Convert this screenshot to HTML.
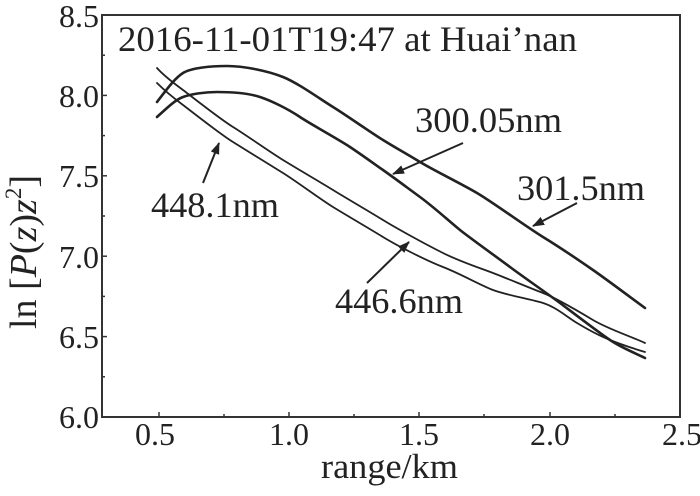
<!DOCTYPE html>
<html><head><style>
html,body{margin:0;padding:0;background:#fff;}
text{font-family:"Liberation Serif",serif;fill:#222;}
</style></head><body>
<svg width="700" height="491" viewBox="0 0 700 491" xmlns="http://www.w3.org/2000/svg">
<defs><marker id="ah" markerWidth="12" markerHeight="9" refX="11" refY="4.5" orient="auto" markerUnits="userSpaceOnUse"><path d="M0,0 L12,4.5 L0,9 z" fill="#222"/></marker></defs>
<rect x="102" y="15" width="578" height="402" fill="none" stroke="#333" stroke-width="2"/>
<g stroke="#333" stroke-width="1.5">
<line x1="102" y1="95.4" x2="107" y2="95.4"/><line x1="102" y1="175.8" x2="107" y2="175.8"/><line x1="102" y1="256.2" x2="107" y2="256.2"/><line x1="102" y1="336.6" x2="107" y2="336.6"/>
<line x1="102" y1="55.2" x2="105" y2="55.2"/><line x1="102" y1="135.6" x2="105" y2="135.6"/><line x1="102" y1="216" x2="105" y2="216"/><line x1="102" y1="296.4" x2="105" y2="296.4"/><line x1="102" y1="376.8" x2="105" y2="376.8"/>
<line x1="159" y1="417" x2="159" y2="412"/><line x1="289" y1="417" x2="289" y2="412"/><line x1="419" y1="417" x2="419" y2="412"/><line x1="550" y1="417" x2="550" y2="412"/>
<line x1="224" y1="417" x2="224" y2="414"/><line x1="354" y1="417" x2="354" y2="414"/><line x1="484" y1="417" x2="484" y2="414"/><line x1="615" y1="417" x2="615" y2="414"/>
</g>
<g font-size="32" text-anchor="end">
<text x="99" y="27">8.5</text><text x="99" y="107">8.0</text><text x="99" y="187">7.5</text><text x="99" y="268">7.0</text><text x="99" y="348">6.5</text><text x="99" y="428">6.0</text>
</g>
<g font-size="32" text-anchor="middle">
<text x="155" y="445">0.5</text><text x="289" y="445">1.0</text><text x="419" y="445">1.5</text><text x="550" y="445">2.0</text><text x="682" y="445">2.5</text>
</g>
<text x="321" y="478" font-size="35" textLength="137" lengthAdjust="spacingAndGlyphs">range/km</text>
<text transform="translate(36,252) rotate(-90)" font-size="38" text-anchor="middle">ln [<tspan font-style="italic">P</tspan>(<tspan font-style="italic">z</tspan>)<tspan font-style="italic">z</tspan><tspan font-size="23" dy="-15">2</tspan><tspan dy="15">]</tspan></text>
<text x="118" y="51" font-size="36" textLength="459" lengthAdjust="spacingAndGlyphs">2016-11-01T19:47 at Huai’nan</text>
<g fill="none" stroke="#222" stroke-linejoin="round" stroke-linecap="round">
<path stroke-width="2.6" d="M157,102 C167,89 175,78 183,73 S210,66 227,66 S268,71 283,77 S320,99 333,107 S370,132 383,140 S405,153 420,162 S460,183 477,193 S525,226 543,237 S580,261 593,270 S630,297 645,308"/>
<path stroke-width="2.6" d="M157,117 C167,108 175,100 183,97 S205,92 217,92 S248,93 260,97 S288,109 300,117 S338,139 350,147 S373,163 383,170 S405,186 420,197 S450,222 460,230 S498,258 510,267 S548,294 560,303 S598,332 610,340 S635,353 645,358"/>
<path stroke-width="1.8" d="M157,68 C165,77 175,84 183,90 S220,119 233,127 S270,152 283,160 S320,182 333,190 S370,212 383,220 S425,244 443,253 S480,268 493,273 S530,288 543,293 S578,311 593,320 S630,336 645,343"/>
<path stroke-width="1.8" d="M157,83 C165,91 175,99 183,105 S220,134 233,142 S270,165 283,173 S320,199 333,207 S370,229 383,237 S425,260 443,267 S480,285 493,290 S530,299 543,303 S567,317 577,323 S600,336 610,340 S635,349 645,352"/>
</g>
<g stroke="#222" stroke-width="2" marker-end="url(#ah)">
<line x1="203" y1="183" x2="219" y2="143"/>
<line x1="463" y1="143" x2="393" y2="174"/>
<line x1="577" y1="203" x2="533" y2="226"/>
<line x1="367" y1="283" x2="409" y2="242"/>
</g>
<g font-size="36">
<text x="415" y="132" textLength="147" lengthAdjust="spacingAndGlyphs">300.05nm</text>
<text x="517" y="200" textLength="128" lengthAdjust="spacingAndGlyphs">301.5nm</text>
<text x="151" y="217" textLength="128" lengthAdjust="spacingAndGlyphs">448.1nm</text>
<text x="335" y="313" textLength="128" lengthAdjust="spacingAndGlyphs">446.6nm</text>
</g>
</svg>
</body></html>
